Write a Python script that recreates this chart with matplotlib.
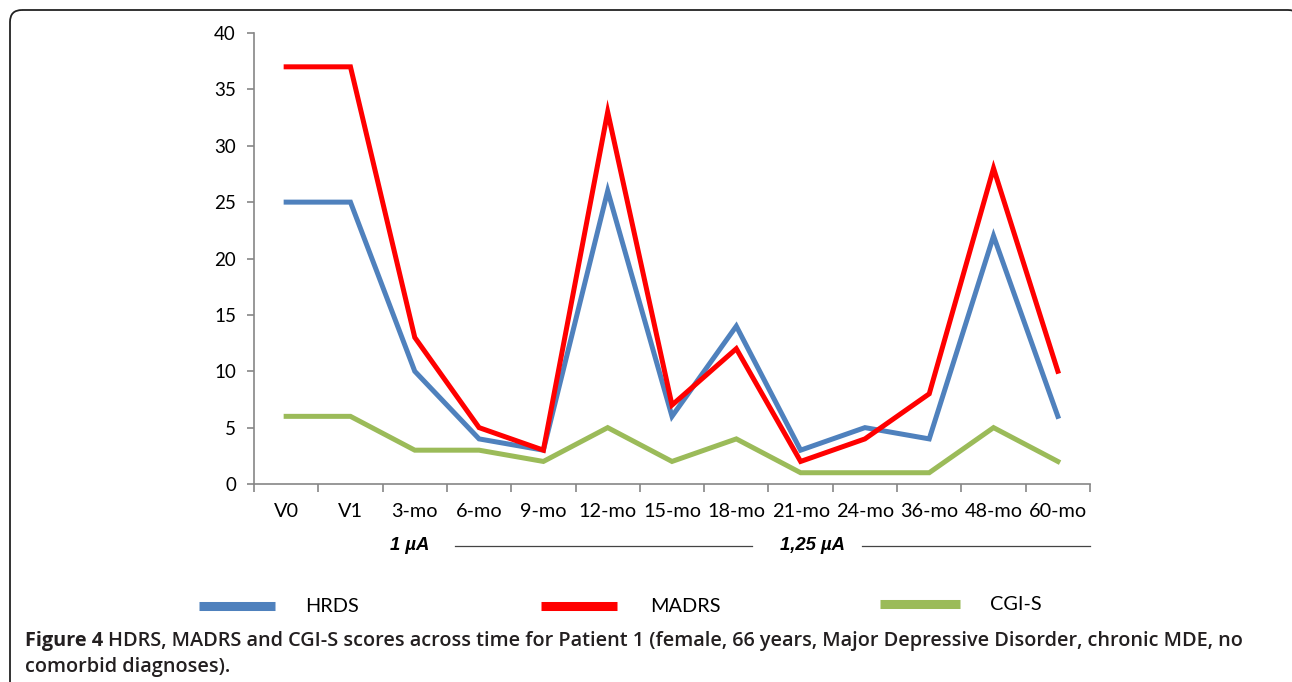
import matplotlib
matplotlib.use("Agg")
import matplotlib.pyplot as plt
from matplotlib.patches import FancyBboxPatch
import numpy as np

categories = ["V0", "V1", "3-mo", "6-mo", "9-mo", "12-mo", "15-mo", "18-mo",
              "21-mo", "24-mo", "36-mo", "48-mo", "60-mo"]
hrds = [25, 25, 10, 4, 3, 26, 6, 14, 3, 5, 4, 22, 6]
madrs = [37, 37, 13, 5, 3, 33, 7, 12, 2, 4, 8, 28, 10]
cgis = [6, 6, 3, 3, 2, 5, 2, 4, 1, 1, 1, 5, 2]
series_names = ["HRDS", "MADRS", "CGI-S"]
colors = ["#4F81BD", "#FF0000", "#9BBB59"]
yticks = [0, 5, 10, 15, 20, 25, 30, 35, 40]

W, H = 1292, 682
fig = plt.figure(figsize=(W / 100, H / 100), dpi=100)
font = ["Lato", "DejaVu Sans"]

# pixel-coordinate overlay for the rounded frame
bg = fig.add_axes([0, 0, 1, 1])
bg.set_xlim(0, W)
bg.set_ylim(H, 0)
bg.axis("off")
bg.add_patch(FancyBboxPatch((10, 10), 1288 - 10 + 12, 720, boxstyle="round,pad=0,rounding_size=12",
                            fill=False, edgecolor="#222222", lw=1.3))

ax = fig.add_axes([254 / W, 1 - 484 / H, (1090 - 254) / W, (484 - 33) / H])
x = np.arange(len(categories))
for vals, c in zip([hrds, madrs, cgis], colors):
    ax.plot(x, vals, color=c, lw=3.6, solid_joinstyle="miter", zorder=3)

ax.set_xlim(-0.5, len(categories) - 0.5)
ax.set_ylim(0, 40)
ax.set_yticks(yticks)
ax.set_yticklabels([str(v) for v in yticks], fontsize=13.5, family=font)
ax.set_xticks(x)
ax.set_xticklabels(categories, fontsize=14.3, family=font)
ax.set_xticks(np.arange(len(categories) + 1) - 0.5, minor=True)
ax.tick_params(axis="x", which="major", length=0, pad=14)
ax.tick_params(axis="x", which="minor", length=6, color="#868686", width=1.2)
ax.tick_params(axis="y", length=5, color="#868686", width=1.2, pad=8)
for s in ["top", "right"]:
    ax.spines[s].set_visible(False)
for s in ["left", "bottom"]:
    ax.spines[s].set_color("#868686")
    ax.spines[s].set_linewidth(1.2)

# dose annotations
def fx(px):
    return px / W

def fy(py):
    return 1 - py / H

ann_font = ["Liberation Sans", "DejaVu Sans"]
fig.text(fx(410), fy(546), "1 µA", ha="center", va="center", fontsize=13.3,
         fontweight="bold", fontstyle="italic", family=ann_font)
fig.add_artist(plt.Line2D([fx(455), fx(752)], [fy(546), fy(546)], color="#444444", lw=0.9))
fig.text(fx(812), fy(546), "1,25 µA", ha="center", va="center", fontsize=13.3,
         fontweight="bold", fontstyle="italic", family=ann_font)
fig.add_artist(plt.Line2D([fx(862), fx(1090)], [fy(546), fy(546)], color="#444444", lw=0.9))

# legend
leg = [(199, 275, 305, 606), (541, 617, 650, 606), (880, 960, 990, 604)]
for (x0, x1, tx, yy), name, c in zip(leg, series_names, colors):
    fig.add_artist(plt.Line2D([fx(x0), fx(x1)], [fy(yy), fy(yy)], color=c, lw=6.5,
                              solid_capstyle="butt"))
    fig.text(fx(tx), fy(yy), name, ha="left", va="center", fontsize=14.3, family=font)

# caption
cap_font = ["Open Sans", "DejaVu Sans"]
t1 = fig.text(fx(25), fy(641), "Figure 4", ha="left", va="center", fontsize=14.3,
              fontweight="bold", family=cap_font, color="#231F20")
fig.canvas.draw()
bb = t1.get_window_extent()
fig.text(bb.x1 / W + 5 / W, fy(641),
         "HDRS, MADRS and CGI-S scores across time for Patient 1 (female, 66 years, Major Depressive Disorder, chronic MDE, no",
         ha="left", va="center", fontsize=14.3, fontweight="semibold", family=cap_font, color="#231F20")
fig.text(fx(25), fy(667), "comorbid diagnoses).", ha="left", va="center", fontsize=14.3,
         fontweight="semibold", family=cap_font, color="#231F20")

fig.savefig("out.png", dpi=100)
